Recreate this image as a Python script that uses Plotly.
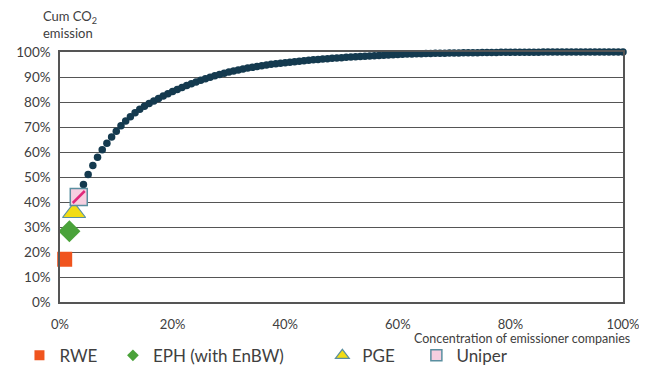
import plotly.graph_objects as go

# companies ranked by emissions; concentration = rank / total
n_companies = 120

# highlighted companies (first four ranks)
company_names = ['RWE', 'EPH (with EnBW)', 'PGE', 'Uniper']
company_cum = [17.1, 28.3, 35.8, 42.0]

# cumulative CO2 emission share for ranks 5..120
cum_emission = [
    47.0, 51.0, 54.6, 57.9, 60.9, 63.5, 66.0, 68.3, 70.5, 72.4,
    74.1, 75.7, 77.1, 78.3, 79.4, 80.4, 81.4, 82.4, 83.3, 84.2,
    85.0, 85.8, 86.6, 87.3, 88.0, 88.7, 89.3, 89.9, 90.5, 91.0,
    91.5, 92.0, 92.4, 92.8, 93.2, 93.6, 93.9, 94.2, 94.5, 94.8,
    95.1, 95.3, 95.5, 95.7, 95.9, 96.1, 96.3, 96.5, 96.7, 96.9,
    97.0, 97.2, 97.3, 97.5, 97.6, 97.7, 97.9, 98.0, 98.1, 98.2,
    98.3, 98.4, 98.5, 98.6, 98.7, 98.8, 98.9, 99.0, 99.1, 99.2,
    99.2, 99.3, 99.3, 99.4, 99.4, 99.5, 99.5, 99.5, 99.6, 99.6,
    99.6, 99.7, 99.7, 99.7, 99.7, 99.8, 99.8, 99.8, 99.8, 99.9,
    99.9, 99.9, 99.9, 99.9, 99.9, 99.9, 99.9, 99.9, 100.0, 100.0,
    100.0, 100.0, 100.0, 100.0, 100.0, 100.0, 100.0, 100.0, 100.0, 100.0,
    100.0, 100.0, 100.0, 100.0, 100.0, 100.0,
]

x_ticks = [0, 20, 40, 60, 80, 100]
x_tick_labels = ['0%', '20%', '40%', '60%', '80%', '100%']

share = [r / n_companies * 100 for r in range(1, n_companies + 1)]
curve_x = share[len(company_cum):]

FONT = 'Lato, Arial, sans-serif'
GREY = '#404040'
BORDER = '#5a8fa0'

styles = [
    dict(symbol='square', size=15, color='#f0541e', line=dict(width=0)),
    dict(symbol='diamond', size=17, color='#4aa23a', line=dict(width=0)),
    dict(symbol='triangle-up', size=20, color='#f2dc14', line=dict(width=1.2, color=BORDER)),
    dict(symbol='square', size=17, color='#f6cfe0', line=dict(width=1.5, color=BORDER)),
]
legend_sizes = [10, 9, 12, 11]
legend_ids = ['legend', 'legend2', 'legend3', 'legend4']

fig = go.Figure()

fig.add_trace(go.Scatter(
    x=curve_x, y=cum_emission, mode='markers',
    marker=dict(size=7.5, color='#143a4f'),
    showlegend=False, cliponaxis=False, hoverinfo='skip'
))

for i, name in enumerate(company_names):
    fig.add_trace(go.Scatter(
        x=[share[i]], y=[company_cum[i]], mode='markers', name=name,
        marker=styles[i], showlegend=False, cliponaxis=False
    ))
    if name == 'Uniper':
        # hatch stripe
        fig.add_trace(go.Scatter(
            x=[share[i]], y=[company_cum[i]], mode='markers', showlegend=False,
            marker=dict(symbol='line-ne', size=12, line=dict(width=2.5, color='#e0287a')),
            cliponaxis=False, hoverinfo='skip'
        ))
    # small legend-only copy
    leg_marker = dict(styles[i], size=legend_sizes[i])
    fig.add_trace(go.Scatter(
        x=[None], y=[None], mode='markers', name=name, marker=leg_marker,
        legend=legend_ids[i], showlegend=True
    ))

legend_style = dict(orientation='h', yanchor='middle', y=-0.215, xanchor='left',
                    font=dict(family=FONT, size=17, color=GREY),
                    bgcolor='rgba(0,0,0,0)', itemsizing='trace', itemwidth=30)

# page body has an 8px margin, so the figure is sized to end at the window edge
fig.update_layout(
    width=639, height=369,
    margin=dict(l=52, r=24, t=44, b=75, autoexpand=False),
    plot_bgcolor='white', paper_bgcolor='white',
    font=dict(family=FONT, size=13, color=GREY),
    legend=dict(legend_style, x=-0.072),
    legend2=dict(legend_style, x=0.094),
    legend3=dict(legend_style, x=0.466),
    legend4=dict(legend_style, x=0.633),
    xaxis=dict(range=[0, 100], tickvals=x_ticks, ticktext=x_tick_labels,
               showgrid=False, zeroline=False, showline=True, mirror=True,
               linecolor='#555', linewidth=1.5, ticks='', ticklabelstandoff=10,
               tickfont=dict(size=13, color=GREY)),
    yaxis=dict(range=[0, 100], dtick=10, ticksuffix='%',
               showgrid=True, gridcolor='#555', gridwidth=1.3,
               zeroline=False, showline=True, mirror=True,
               linecolor='#555', linewidth=1.5, ticks='', ticklabelstandoff=5,
               tickfont=dict(size=13.5, color=GREY)),
    annotations=[
        dict(text='Cum CO<sub>2</sub><br>emission', xref='paper', yref='paper',
             x=-0.034, y=1.035, xanchor='left', yanchor='bottom', showarrow=False,
             align='left', font=dict(family=FONT, size=13, color=GREY)),
        dict(text='Concentration of emissioner companies', xref='paper', yref='paper',
             x=1.016, y=-0.145, xanchor='right', yanchor='middle', showarrow=False,
             font=dict(family=FONT, size=12.5, color=GREY)),
    ],
)

fig.write_html('out.html')
